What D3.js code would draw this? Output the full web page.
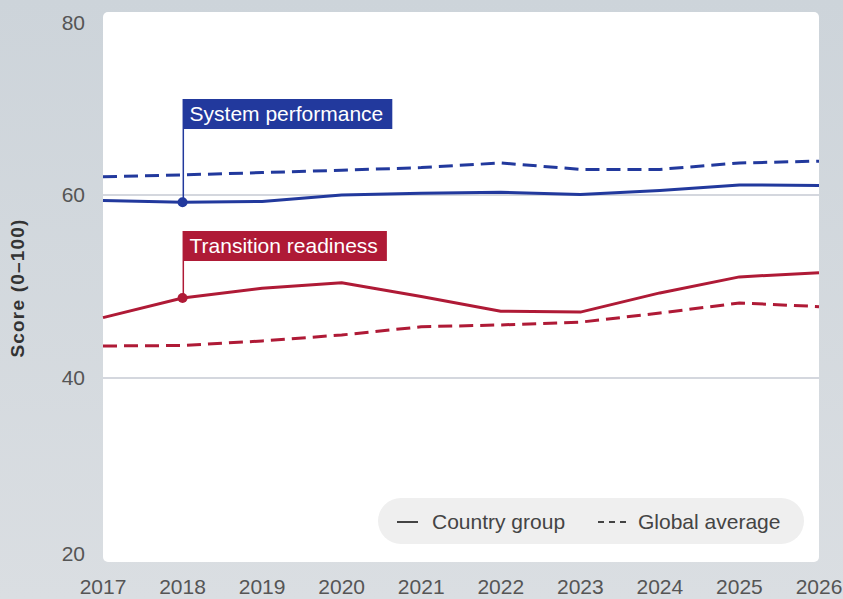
<!DOCTYPE html>
<html>
<head>
<meta charset="utf-8">
<script src="https://cdn.jsdelivr.net/npm/d3@7/dist/d3.min.js"></script>
<style>
  html, body { margin: 0; padding: 0; background: #d3d9df; }
  svg { display: block; font-family: "Liberation Sans", Arial, sans-serif; }
</style>
</head>
<body>
<svg id="chart" width="843" height="599"></svg>
<script>
// Years on the x axis
const years = [2017, 2018, 2019, 2020, 2021, 2022, 2023, 2024, 2025, 2026];

// Scores (0–100) per year
const systemGroup   = [59.4, 59.2, 59.3, 60.0, 60.2, 60.3, 60.05, 60.5, 61.1, 61.05];
const systemGlobal  = [62.0, 62.2, 62.45, 62.7, 63.0, 63.5, 62.8, 62.8, 63.5, 63.7];
const readyGroup    = [46.6, 48.75, 49.8, 50.4, 48.9, 47.3, 47.2, 49.3, 51.05, 51.5];
const readyGlobal   = [43.5, 43.55, 44.05, 44.7, 45.6, 45.8, 46.1, 47.1, 48.2, 47.8];

// Axis ticks
const yTicks = [20, 40, 60, 80];
const gridTicks = [40, 60];

// Labels
const seriesNames = ["System performance", "Transition readiness"];
const legendItems = ["Country group", "Global average"];
const yTitle = "Score (0–100)";
const calloutYear = 2018;

const BLUE = "#22399d";
const RED = "#af1a36";
const FS = 21;

const svg = d3.select("#chart");
const W = 843, H = 599;
const panel = { left: 103, right: 819, top: 12, bottom: 562 };

const defs = svg.append("defs");
const bg = defs.append("linearGradient").attr("id", "bg").attr("x1", 0).attr("y1", 0).attr("x2", 0).attr("y2", 1);
bg.append("stop").attr("offset", "0%").attr("stop-color", "#cdd4da");
bg.append("stop").attr("offset", "100%").attr("stop-color", "#dadee2");
svg.append("rect").attr("width", W).attr("height", H).attr("fill", "url(#bg)");

const x = d3.scalePoint().domain(years).range([panel.left, panel.right]);
const y = d3.scaleLinear().domain([20, 80]).range([561, 12]);

// White plotting panel
svg.append("rect")
  .attr("x", panel.left).attr("y", panel.top)
  .attr("width", panel.right - panel.left).attr("height", panel.bottom - panel.top)
  .attr("rx", 5).attr("fill", "#ffffff");

// Gridlines
svg.append("g").selectAll("line").data(gridTicks).join("line")
  .attr("x1", panel.left).attr("x2", panel.right)
  .attr("y1", d => y(d)).attr("y2", d => y(d))
  .attr("stroke", "#c6cad3").attr("stroke-width", 1.5);

// Y tick labels (kept inside the panel's vertical extent)
svg.append("g").selectAll("text").data(yTicks).join("text")
  .attr("x", 85)
  .attr("y", d => Math.max(panel.top + 11, Math.min(panel.bottom - 8, y(d))))
  .attr("dy", "0.35em")
  .attr("text-anchor", "end")
  .attr("font-size", FS).attr("fill", "#555")
  .text(d => d);

// X tick labels
svg.append("g").selectAll("text").data(years).join("text")
  .attr("x", d => x(d)).attr("y", 587).attr("dy", "0.35em")
  .attr("text-anchor", "middle")
  .attr("font-size", FS).attr("fill", "#555")
  .text(d => d);

// Y axis title
svg.append("text")
  .attr("transform", "translate(24,288) rotate(-90)")
  .attr("text-anchor", "middle")
  .attr("font-size", 19).attr("font-weight", "bold").attr("fill", "#333")
  .attr("letter-spacing", 1.2)
  .text(yTitle);

const line = d3.line().x((d, i) => x(years[i])).y(d => y(d));

const series = [
  { values: systemGlobal, color: BLUE, dashed: true },
  { values: readyGlobal, color: RED, dashed: true },
  { values: systemGroup, color: BLUE, dashed: false },
  { values: readyGroup, color: RED, dashed: false }
];

svg.append("g").selectAll("path").data(series).join("path")
  .attr("d", d => line(d.values))
  .attr("fill", "none")
  .attr("stroke", d => d.color)
  .attr("stroke-width", 3)
  .attr("stroke-linejoin", "round")
  .attr("stroke-dasharray", d => d.dashed ? "14,7" : null);

// Callouts
const callouts = [
  { name: seriesNames[0], values: systemGroup, color: BLUE, boxTop: 99 },
  { name: seriesNames[1], values: readyGroup, color: RED, boxTop: 231 }
];
const ci = years.indexOf(calloutYear);
callouts.forEach(c => {
  const cx = x(calloutYear), cy = y(c.values[ci]);
  const g = svg.append("g");
  const box = g.append("rect").attr("fill", c.color);
  const t = g.append("text")
    .attr("x", cx + 7).attr("y", c.boxTop + 15).attr("dy", "0.35em")
    .attr("font-size", FS).attr("fill", "#fff")
    .text(c.name);
  const w = t.node().getComputedTextLength();
  box.attr("x", cx).attr("y", c.boxTop).attr("width", w + 16).attr("height", 30);
  g.append("line").attr("x1", cx + 0.75).attr("x2", cx + 0.75)
    .attr("y1", c.boxTop + 30).attr("y2", cy)
    .attr("stroke", c.color).attr("stroke-width", 1.5);
  g.append("circle").attr("cx", cx).attr("cy", cy).attr("r", 5).attr("fill", c.color);
});

// Legend
const lg = svg.append("g");
lg.append("rect").attr("x", 378).attr("y", 498).attr("width", 426).attr("height", 46)
  .attr("rx", 23).attr("fill", "#efefef");
lg.append("line").attr("x1", 397).attr("x2", 418).attr("y1", 522).attr("y2", 522)
  .attr("stroke", "#444").attr("stroke-width", 2);
lg.append("text").attr("x", 432).attr("y", 522).attr("dy", "0.35em")
  .attr("font-size", FS).attr("fill", "#444").text(legendItems[0]);
lg.append("line").attr("x1", 598).attr("x2", 626).attr("y1", 522).attr("y2", 522)
  .attr("stroke", "#444").attr("stroke-width", 2).attr("stroke-dasharray", "6,5");
lg.append("text").attr("x", 638).attr("y", 522).attr("dy", "0.35em")
  .attr("font-size", FS).attr("fill", "#444").text(legendItems[1]);
</script>
</body>
</html>
